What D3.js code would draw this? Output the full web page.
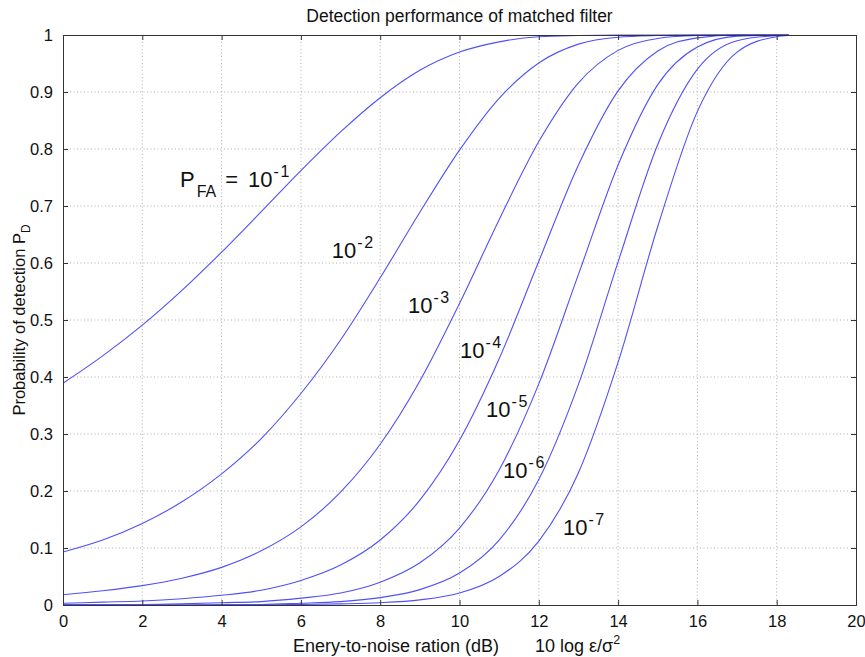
<!DOCTYPE html>
<html>
<head>
<meta charset="utf-8">
<script src="https://cdn.jsdelivr.net/npm/d3@7"></script>
<style>
  body { margin: 0; background: #fff; }
  svg { font-family: "Liberation Sans", Arial, sans-serif; }
</style>
</head>
<body>
<svg width="865" height="657"></svg>
<script>
// energy-to-noise ratio (dB) where the curves were read
const snrDb = [0, 1, 2, 3, 4, 5, 6, 7, 8, 9, 10, 11, 12, 13, 14, 15, 16, 17, 18, 18.3];

// probability of detection, one array per false-alarm rate
const pdFa1 = [0.389, 0.437, 0.491, 0.552, 0.619, 0.690, 0.762, 0.830, 0.890, 0.938, 0.970, 0.988, 0.997, 0.999, 1, 1, 1, 1, 1, 1];
const pdFa2 = [0.093, 0.114, 0.143, 0.181, 0.230, 0.292, 0.371, 0.465, 0.574, 0.689, 0.798, 0.889, 0.951, 0.984, 0.996, 0.999, 1, 1, 1, 1];
const pdFa3 = [0.018, 0.025, 0.034, 0.047, 0.066, 0.095, 0.137, 0.198, 0.282, 0.393, 0.529, 0.676, 0.813, 0.916, 0.973, 0.994, 0.999, 1, 1, 1];
const pdFa4 = [0.003, 0.005, 0.007, 0.011, 0.017, 0.026, 0.043, 0.070, 0.114, 0.184, 0.289, 0.432, 0.603, 0.772, 0.902, 0.972, 0.995, 1, 1, 1];
const pdFa5 = [0.001, 0.001, 0.001, 0.002, 0.004, 0.006, 0.012, 0.021, 0.040, 0.074, 0.135, 0.237, 0.388, 0.580, 0.772, 0.913, 0.979, 0.998, 1, 1];
const pdFa6 = [0, 0, 0, 0, 0.001, 0.001, 0.003, 0.006, 0.013, 0.027, 0.056, 0.114, 0.220, 0.387, 0.602, 0.808, 0.940, 0.990, 0.999, 1];
const pdFa7 = [0, 0, 0, 0, 0, 0, 0.001, 0.002, 0.004, 0.009, 0.021, 0.050, 0.112, 0.232, 0.426, 0.664, 0.866, 0.970, 0.997, 0.999];

const series = [pdFa1, pdFa2, pdFa3, pdFa4, pdFa5, pdFa6, pdFa7];

// exponent of each curve label and where it sits (data units)
const labelExp = [-1, -2, -3, -4, -5, -6, -7];
const labelAt = [[2.95, 0.733], [6.78, 0.609], [8.70, 0.512], [10.01, 0.433], [10.67, 0.330], [11.10, 0.223], [12.61, 0.123]];

const xTicks = d3.range(0, 21, 2);
const yTicks = d3.range(0, 11).map(d => d / 10);

const svg = d3.select('svg');
const plotLeft = 63, plotRight = 856, plotTop = 35, plotBottom = 605;

const x = d3.scaleLinear().domain([0, 20]).range([plotLeft, plotRight]);
const y = d3.scaleLinear().domain([0, 1]).range([plotBottom, plotTop]);

// grid
const grid = svg.append('g')
    .attr('class', 'grid')
    .attr('stroke', '#9a9a9a')
    .attr('stroke-width', 0.8)
    .attr('stroke-dasharray', '1,2.5');

grid.selectAll('.vgrid')
    .data(xTicks.slice(1, -1))
    .join('line')
        .attr('class', 'vgrid')
        .attr('x1', d => x(d)).attr('x2', d => x(d))
        .attr('y1', plotTop).attr('y2', plotBottom);

grid.selectAll('.hgrid')
    .data(yTicks.slice(1, -1))
    .join('line')
        .attr('class', 'hgrid')
        .attr('x1', plotLeft).attr('x2', plotRight)
        .attr('y1', d => y(d)).attr('y2', d => y(d));

// curves
const line = d3.line()
    .x((d, i) => x(snrDb[i]))
    .y(d => y(d))
    .curve(d3.curveMonotoneX);

svg.append('g')
    .attr('class', 'curves')
    .selectAll('path')
    .data(series)
    .join('path')
        .attr('fill', 'none')
        .attr('stroke', '#5050f8')
        .attr('stroke-width', 1.1)
        .attr('d', line);

// axes with inward ticks, MATLAB box style
const tickLen = -5;
svg.append('g')
    .attr('transform', `translate(0,${plotBottom})`)
    .call(d3.axisBottom(x).tickValues(xTicks).tickSize(tickLen).tickPadding(10).tickFormat(d3.format('d')));
svg.append('g')
    .attr('transform', `translate(0,${plotTop})`)
    .call(d3.axisTop(x).tickValues(xTicks).tickSize(tickLen).tickFormat(''));
svg.append('g')
    .attr('transform', `translate(${plotLeft},0)`)
    .call(d3.axisLeft(y).tickValues(yTicks).tickSize(tickLen).tickPadding(10).tickFormat(d => d === 0 || d === 1 ? d3.format('d')(d) : d3.format('.1f')(d)));
svg.append('g')
    .attr('transform', `translate(${plotRight},0)`)
    .call(d3.axisRight(y).tickValues(yTicks).tickSize(tickLen).tickFormat(''));

svg.selectAll('.domain').attr('stroke', '#333');
svg.selectAll('.tick line').attr('stroke', '#333');
svg.selectAll('.tick text')
    .attr('font-size', 16.5)
    .attr('fill', '#111')
    .attr('font-family', '"Liberation Sans", Arial, sans-serif');

// title and axis labels
svg.append('text')
    .attr('x', (plotLeft + plotRight) / 2)
    .attr('y', 22)
    .attr('text-anchor', 'middle')
    .attr('font-size', 17.5)
    .attr('fill', '#111')
    .text('Detection performance of matched filter');

const xLabel = svg.append('text')
    .attr('x', 293)
    .attr('y', 652)
    .attr('font-size', 18)
    .attr('fill', '#111');
xLabel.append('tspan').text('Enery-to-noise ration (dB)');
xLabel.append('tspan').attr('x', 535).text('10 log ε/σ');
xLabel.append('tspan').attr('dy', -8).attr('font-size', 12.5).text('2');

const yLabel = svg.append('text')
    .attr('transform', `translate(25,${(plotTop + plotBottom) / 2}) rotate(-90)`)
    .attr('text-anchor', 'middle')
    .attr('font-size', 16.5)
    .attr('fill', '#111');
yLabel.append('tspan').text('Probability of detection P');
yLabel.append('tspan').attr('dy', 5).attr('font-size', 12).text('D');

// curve labels
const labels = svg.append('g')
    .attr('class', 'curve-labels')
    .attr('fill', '#111')
    .selectAll('text')
    .data(labelExp)
    .join('text')
        .attr('x', (d, i) => x(labelAt[i][0]))
        .attr('y', (d, i) => y(labelAt[i][1]))
        .attr('font-size', 22);

labels.filter(d => d === -1).each(function () {
    const t = d3.select(this);
    t.append('tspan').text('P');
    t.append('tspan').attr('dy', 10).attr('dx', 2).attr('font-size', 16).text('FA');
    t.append('tspan').attr('dy', -10).attr('dx', 9).text('=');
});
labels.append('tspan')
    .attr('dx', d => d === -1 ? 10 : null)
    .text('10');
labels.append('tspan')
    .attr('dy', -10)
    .attr('dx', 1)
    .attr('font-size', 16)
    .attr('letter-spacing', 1.5)
    .text(d => `-${-d}`);
</script>
</body>
</html>
